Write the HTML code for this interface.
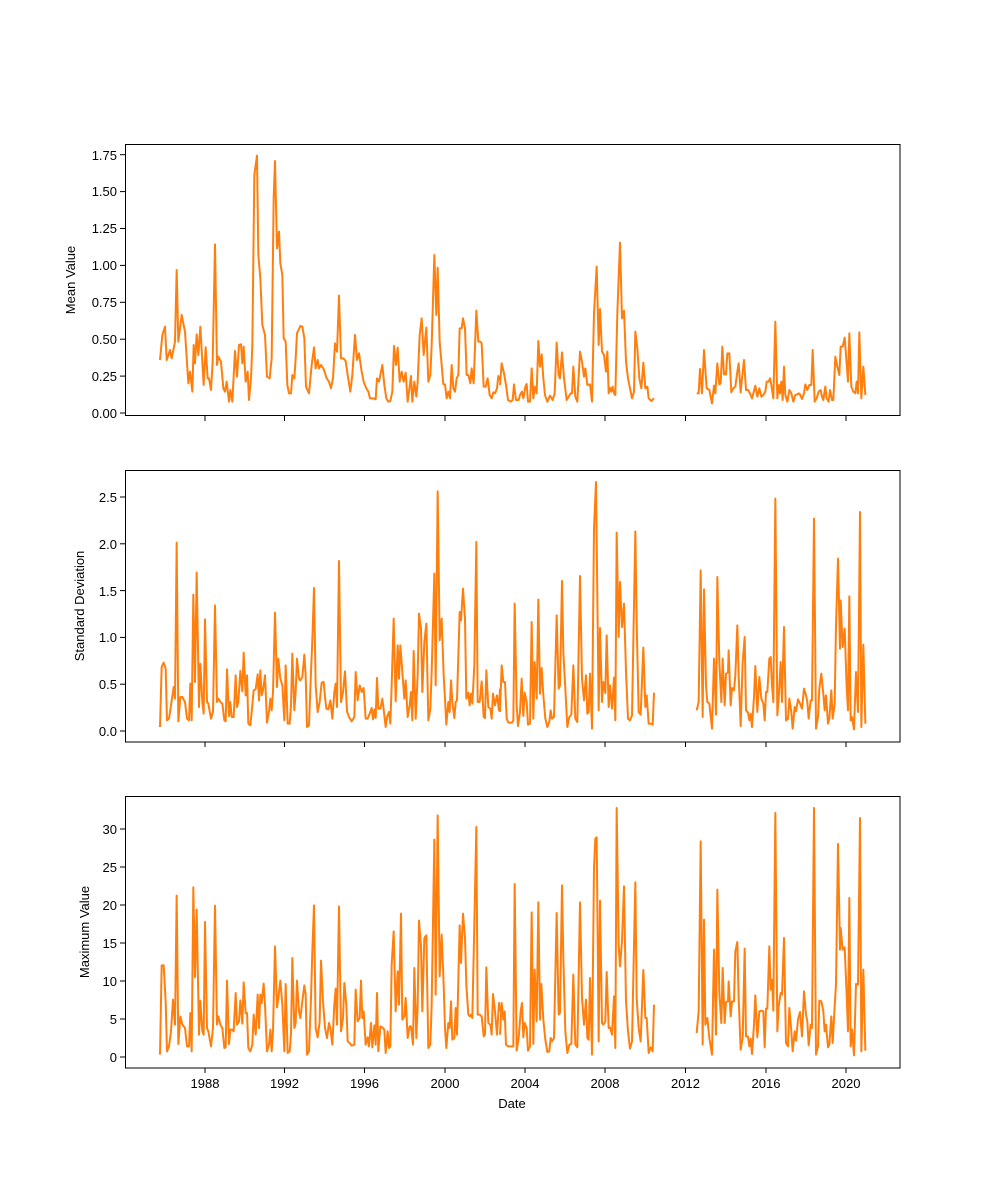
<!DOCTYPE html>
<html><head><meta charset="utf-8"><style>
html,body{margin:0;padding:0;background:#fff}
svg{display:block}
text{font-family:"Liberation Sans","DejaVu Sans",sans-serif;font-size:13px;fill:#000}
.l{fill:none;stroke:#ff7f0e;stroke-width:2;stroke-linejoin:round;vector-effect:non-scaling-stroke}
.ax{fill:none;stroke:#000;stroke-width:1}
.t{stroke:#000;stroke-width:1}
</style></head><body>
<svg width="1000" height="1200" viewBox="0 0 1000 1200" xmlns="http://www.w3.org/2000/svg">
<rect width="1000" height="1200" fill="#fff"/>

<!-- Panel 1 -->
<g transform="translate(125,145) scale(0.3333333)">
<polyline class="l" points="105,645 112,570 120,545 125,645 135,615 140,640 150,590 155,375 160,590 170,510 180,560 190,715 195,680 202,740 206,600 210,655 215,568 220,630 226,545 236,720 242,607 248,700 252,700 258,735 263,650 270,298 276,660 280,635 288,650 295,730 300,740 305,710 312,770 316,735 322,770 330,618 336,695 342,600 348,598 352,655 356,605 362,710 368,680 372,765 378,700 382,600 388,90 396,32 400,330 406,400 412,540 420,570 426,695 434,700 440,640 446,160 450,48 456,310 462,260 466,355 472,390 476,580 482,590 487,720 492,745 498,745 502,690 508,700 512,640 516,565 526,543 532,545 538,580 543,725 552,745 560,660 567,607 572,670 578,645 582,670 588,660 596,672 605,700 612,710 618,730 624,700 630,595 636,620 642,452 648,640 655,640 662,648 668,690 676,740 682,690 690,570 696,645 702,625 710,680 716,710 724,730 730,740 735,760 745,760 752,763 756,700 762,710 766,690 772,660 778,720 784,760 790,770 796,768 802,740 807,603 813,660 818,608 824,710 830,680 836,710 842,683 848,770 852,740 858,693 862,770 868,710 874,755 878,710 884,570 890,520 896,630 904,548 910,710 916,690 920,600 928,330 934,510 938,368 944,590 950,660 955,718 960,718 965,760 970,740 975,760 980,660 985,730 990,740 995,700 1000,690 1004,550 1010,550 1014,520 1020,550 1025,690 1030,690 1036,715 1040,670 1046,715 1054,497 1060,590 1066,590 1070,595 1076,725 1082,725 1088,700 1094,750 1100,760 1105,742 1110,745 1116,730 1120,693 1125,705"/>
</g>
<g transform="translate(500,145) scale(0.3333333)">
<polyline class="l" points="0,720 5,655 12,685 18,720 24,765 32,770 38,765 42,718 48,765 56,765 60,750 66,740 70,760 76,725 80,717 84,770 90,770 95,670 100,760 104,725 110,745 115,588 120,665 125,628 130,700 135,750 142,770 150,752 158,765 164,745 170,593 176,690 180,700 186,622 192,700 200,765 206,755 212,745 216,745 220,665 226,755 232,770 240,620 246,650 252,695 256,670 262,720 270,718 276,770 282,505 290,365 296,600 300,492 306,620 312,630 318,680 322,620 326,745 330,728 334,740 338,725 342,745 346,750 352,505 360,293 366,520 372,497 378,650 384,700 390,730 396,760 402,740 406,560 412,610 418,700 424,730 430,653 436,730 442,725 446,760 454,768 462,760"/>
<polyline class="l" points="590,745 596,745 600,672 606,745 612,615 620,730 628,735 636,775 642,722 646,745 652,655 658,718 662,715 667,605 672,688 678,688 682,625 688,625 694,742 700,730 706,725 712,680 716,655 722,742 726,700 732,645 738,735 744,735 750,745 756,760 760,745 766,722 772,755 778,730 784,755 790,750 796,740 800,710 806,710 810,700 814,720 820,760 826,530 832,760 836,720 840,745 844,710 848,765 852,665 856,750 862,770 868,735 874,745 880,770 886,750 892,748 896,745 900,748 906,762 912,745 916,718 922,735 928,720 934,720 938,615 944,770 950,760 956,740 962,735 966,755 970,765 976,725 980,760 986,770 990,735 996,765 1000,765 1006,635 1012,665 1018,690 1022,605 1028,605 1034,578 1038,630 1044,710 1048,565 1054,725 1060,740 1066,745 1070,710 1074,745 1078,562 1084,760 1090,665 1096,750"/>
</g>
<rect class="ax" x="125.5" y="144.5" width="774.5" height="271"/>
<g class="t">
<line x1="120" y1="413" x2="125" y2="413"/><line x1="120" y1="376.1" x2="125" y2="376.1"/><line x1="120" y1="339.2" x2="125" y2="339.2"/><line x1="120" y1="302.3" x2="125" y2="302.3"/><line x1="120" y1="265.4" x2="125" y2="265.4"/><line x1="120" y1="228.5" x2="125" y2="228.5"/><line x1="120" y1="191.6" x2="125" y2="191.6"/><line x1="120" y1="154.7" x2="125" y2="154.7"/>
</g>
<g text-anchor="end">
<text x="117" y="418">0.00</text><text x="117" y="381">0.25</text><text x="117" y="344">0.50</text><text x="117" y="307">0.75</text><text x="117" y="270">1.00</text><text x="117" y="233">1.25</text><text x="117" y="196">1.50</text><text x="117" y="160">1.75</text>
</g>
<text transform="translate(75,280) rotate(-90)" text-anchor="middle">Mean Value</text>

<!-- Panel 2 -->
<g transform="translate(125,472) scale(0.3333333)">
<polyline class="l" points="105,765 110,585 116,572 122,590 126,745 132,740 138,700 146,645 150,680 155,212 160,748 166,675 172,675 180,690 186,740 192,745 196,635 200,745 205,368 210,630 215,302 222,705 226,575 232,690 236,725 240,442 246,690 250,695 258,740 264,720 270,400 276,690 280,680 286,690 292,695 298,745 302,748 306,592 312,732 316,690 320,735 326,735 332,610 336,705 340,690 346,597 352,658 356,542 362,670 366,610 370,755 376,760 382,700 386,655 392,652 398,607 402,685 406,595 410,670 414,655 420,610 426,752 432,718 436,680 440,715 444,660 450,422 456,645 460,560 466,620 472,640 478,745 482,580 488,755 494,755 498,700 502,545 508,715 512,660 516,560 522,620 526,625 532,615 538,548 542,610 546,765 552,760 558,600 562,505 567,348 572,640 578,720 584,690 590,632 596,630 600,675 604,710 610,712 616,685 622,740 628,660 632,635 636,705 642,267 648,690 654,660 660,598 666,718 672,735 680,748 688,735 692,600 698,685 704,640 710,660 716,648 722,740 728,740 734,725 740,708 744,742 748,712 752,738 756,618 760,710 766,710 772,680 778,730 782,765 786,735 792,720 796,755 800,640 806,440 812,688 818,520 822,620 826,520 832,600 838,680 842,625 848,735 854,700 858,660 862,745 866,537 872,740 878,610 882,425 888,470 892,660 898,510 904,455 910,745 916,710 920,600 928,305 932,640 938,58 944,505 950,440 956,610 960,680 964,758 970,690 974,720 978,625 982,690 988,738 992,690 996,685 1004,420 1008,445 1014,350 1020,440 1024,680 1030,662 1034,700 1038,665 1042,695 1048,580 1054,210 1058,690 1064,690 1070,628 1076,735 1080,738 1084,595 1090,705 1096,710 1100,740 1104,665 1110,700 1116,670 1122,715 1125,650"/>
</g>
<g transform="translate(500,472) scale(0.3333333)">
<polyline class="l" points="0,720 5,580 10,630 15,630 20,740 25,752 30,752 36,752 40,745 44,395 50,700 54,762 60,720 65,620 70,732 74,662 80,690 84,758 90,755 95,450 100,740 104,570 110,680 115,383 120,665 125,588 130,670 136,740 142,765 148,750 152,715 156,740 162,735 170,430 176,650 180,640 186,327 190,540 196,650 202,765 208,735 214,728 220,580 226,740 232,750 240,312 246,620 252,685 258,610 262,725 266,720 270,605 276,770 282,170 288,30 296,715 300,468 306,690 310,630 316,663 320,490 326,705 330,640 336,710 342,617 346,745 350,182 356,495 360,330 366,465 372,395 378,600 384,740 390,745 396,730 406,178 410,450 416,720 422,728 430,527 436,705 440,670 446,755 452,755 458,758 462,662"/>
<polyline class="l" points="590,715 596,690 602,295 608,735 612,352 618,640 622,690 628,695 636,770 642,560 648,728 652,315 658,570 664,690 668,560 674,700 678,605 684,602 686,535 692,700 696,648 702,655 706,610 712,460 716,610 722,762 728,570 734,495 738,715 744,722 748,745 752,725 756,765 762,675 766,582 772,720 778,615 784,680 790,695 794,745 798,660 802,660 808,560 812,555 816,640 820,690 826,80 832,730 836,680 842,570 846,690 852,465 858,745 864,740 868,680 874,720 878,770 884,705 888,718 894,682 900,695 906,710 912,650 918,670 922,690 926,740 932,685 936,685 942,140 948,770 954,735 958,650 964,605 970,665 974,715 978,670 984,755 988,740 994,655 998,740 1004,695 1008,460 1014,260 1020,530 1022,385 1028,525 1034,470 1040,645 1044,715 1048,373 1052,745 1056,735 1062,772 1068,600 1074,720 1080,120 1084,765 1090,518 1096,755"/>
</g>
<rect class="ax" x="125.5" y="470.5" width="774.5" height="271.5"/>
<g class="t">
<line x1="120" y1="731" x2="125" y2="731"/><line x1="120" y1="684.2" x2="125" y2="684.2"/><line x1="120" y1="637.4" x2="125" y2="637.4"/><line x1="120" y1="590.6" x2="125" y2="590.6"/><line x1="120" y1="543.8" x2="125" y2="543.8"/><line x1="120" y1="497" x2="125" y2="497"/>
</g>
<g text-anchor="end">
<text x="117" y="736">0.0</text><text x="117" y="689">0.5</text><text x="117" y="642">1.0</text><text x="117" y="596">1.5</text><text x="117" y="549">2.0</text><text x="117" y="502">2.5</text>
</g>
<text transform="translate(84,606) rotate(-90)" text-anchor="middle">Standard Deviation</text>

<!-- Panel 3 -->
<g transform="translate(125,798) scale(0.3333333)">
<polyline class="l" points="105,770 110,502 116,502 122,610 126,760 132,745 138,700 144,605 150,680 155,293 160,738 166,655 172,680 180,690 186,745 192,745 196,645 200,760 205,268 210,537 215,335 222,710 226,608 232,700 236,710 240,372 246,690 250,700 258,745 264,690 270,323 276,680 280,655 286,680 292,690 298,750 302,748 306,548 312,738 316,695 322,695 326,700 332,585 336,680 342,670 346,607 352,677 356,553 362,645 366,645 370,750 376,760 382,740 386,650 392,710 398,590 402,690 406,590 410,615 416,557 420,620 426,760 432,740 436,695 440,760 444,700 450,445 456,628 460,600 466,548 472,620 478,760 482,558 488,765 494,760 498,710 502,480 508,690 512,675 516,548 522,640 526,660 532,610 538,562 542,590 546,770 552,760 558,600 562,460 567,322 572,690 578,718 584,670 588,488 594,610 600,690 606,720 612,675 616,690 622,740 628,620 632,572 636,680 642,325 648,700 654,660 658,555 664,620 668,730 674,735 680,743 688,740 692,575 698,670 704,660 708,548 712,660 716,640 722,740 728,718 732,745 738,675 742,748 748,682 752,740 756,585 760,760 766,685 772,688 778,695 782,765 788,700 792,750 796,745 800,500 806,400 812,640 818,520 822,620 828,347 832,665 838,655 842,600 848,720 854,685 858,685 864,740 868,510 874,720 878,620 882,368 888,445 892,640 898,420 904,412 910,750 916,740 920,620 928,125 932,590 938,52 944,535 950,410 956,560 960,690 964,750 970,675 974,690 978,610 982,725 988,720 992,630 996,710 1004,382 1008,495 1014,347 1020,420 1024,560 1030,650 1034,655 1038,650 1042,660 1048,380 1054,87 1058,650 1064,650 1070,655 1076,715 1080,710 1084,508 1090,675 1096,680 1100,710 1104,588 1110,640 1116,710 1122,615 1125,640"/>
</g>
<g transform="translate(500,798) scale(0.3333333)">
<polyline class="l" points="0,710 5,615 10,665 14,640 18,740 24,745 30,745 36,745 40,745 44,258 50,758 56,720 62,640 66,615 70,718 74,675 80,690 84,758 90,745 95,343 100,738 104,515 110,670 115,313 120,665 124,558 130,665 136,725 142,762 148,760 152,720 156,730 162,720 170,345 176,650 180,645 186,262 190,480 196,700 202,765 208,740 214,738 220,530 226,740 232,748 240,313 246,600 252,680 258,605 262,720 266,725 270,540 276,770 282,210 286,122 290,118 296,730 300,308 306,675 310,680 316,670 320,522 326,690 330,688 336,710 342,595 346,750 350,30 356,440 360,505 366,430 372,265 378,610 384,700 390,752 396,730 406,253 410,600 416,690 422,730 430,516 436,660 440,660 446,765 452,748 458,760 462,620"/>
<polyline class="l" points="590,705 596,640 602,130 608,740 612,365 616,680 622,660 628,720 636,770 642,455 648,710 652,275 658,585 664,675 668,510 674,675 678,612 684,610 686,550 692,655 696,610 702,610 706,460 712,432 716,600 722,755 728,720 734,452 738,715 744,716 748,745 752,722 756,768 762,680 766,592 772,718 778,640 784,638 790,640 794,748 798,632 802,632 808,445 812,575 816,545 820,638 826,45 832,700 836,625 842,585 846,590 852,420 858,735 864,745 868,630 874,700 878,760 884,700 888,728 894,665 900,642 906,715 912,580 918,650 922,670 926,742 932,680 936,690 942,30 948,770 954,745 958,608 964,610 970,640 974,700 978,680 984,748 988,740 994,655 998,735 1004,625 1008,560 1014,138 1020,455 1022,390 1028,455 1034,448 1040,590 1044,700 1048,300 1052,745 1056,695 1062,772 1068,558 1074,560 1080,60 1084,760 1090,515 1096,758"/>
</g>
<rect class="ax" x="125.5" y="796.5" width="774.5" height="271.5"/>
<g class="t">
<line x1="120" y1="1057" x2="125" y2="1057"/><line x1="120" y1="1019" x2="125" y2="1019"/><line x1="120" y1="981" x2="125" y2="981"/><line x1="120" y1="943" x2="125" y2="943"/><line x1="120" y1="905" x2="125" y2="905"/><line x1="120" y1="867" x2="125" y2="867"/><line x1="120" y1="829" x2="125" y2="829"/>
</g>
<g text-anchor="end">
<text x="117" y="1062">0</text><text x="117" y="1024">5</text><text x="117" y="986">10</text><text x="117" y="948">15</text><text x="117" y="910">20</text><text x="117" y="872">25</text><text x="117" y="834">30</text>
</g>
<text transform="translate(89,932) rotate(-90)" text-anchor="middle">Maximum Value</text>

<!-- X ticks on all panels -->
<g class="t">
<line x1="205" y1="416" x2="205" y2="421"/><line x1="284.5" y1="416" x2="284.5" y2="421"/><line x1="364.5" y1="416" x2="364.5" y2="421"/><line x1="445" y1="416" x2="445" y2="421"/><line x1="525" y1="416" x2="525" y2="421"/><line x1="605" y1="416" x2="605" y2="421"/><line x1="685.5" y1="416" x2="685.5" y2="421"/><line x1="766" y1="416" x2="766" y2="421"/><line x1="846" y1="416" x2="846" y2="421"/>
<line x1="205" y1="742" x2="205" y2="747"/><line x1="284.5" y1="742" x2="284.5" y2="747"/><line x1="364.5" y1="742" x2="364.5" y2="747"/><line x1="445" y1="742" x2="445" y2="747"/><line x1="525" y1="742" x2="525" y2="747"/><line x1="605" y1="742" x2="605" y2="747"/><line x1="685.5" y1="742" x2="685.5" y2="747"/><line x1="766" y1="742" x2="766" y2="747"/><line x1="846" y1="742" x2="846" y2="747"/>
<line x1="205" y1="1068" x2="205" y2="1073"/><line x1="284.5" y1="1068" x2="284.5" y2="1073"/><line x1="364.5" y1="1068" x2="364.5" y2="1073"/><line x1="445" y1="1068" x2="445" y2="1073"/><line x1="525" y1="1068" x2="525" y2="1073"/><line x1="605" y1="1068" x2="605" y2="1073"/><line x1="685.5" y1="1068" x2="685.5" y2="1073"/><line x1="766" y1="1068" x2="766" y2="1073"/><line x1="846" y1="1068" x2="846" y2="1073"/>
</g>
<g text-anchor="middle">
<text x="205" y="1088">1988</text><text x="284.5" y="1088">1992</text><text x="364.5" y="1088">1996</text><text x="445" y="1088">2000</text><text x="525" y="1088">2004</text><text x="605" y="1088">2008</text><text x="685.5" y="1088">2012</text><text x="766" y="1088">2016</text><text x="846" y="1088">2020</text>
<text x="512" y="1108">Date</text>
</g>
</svg>
</body></html>
